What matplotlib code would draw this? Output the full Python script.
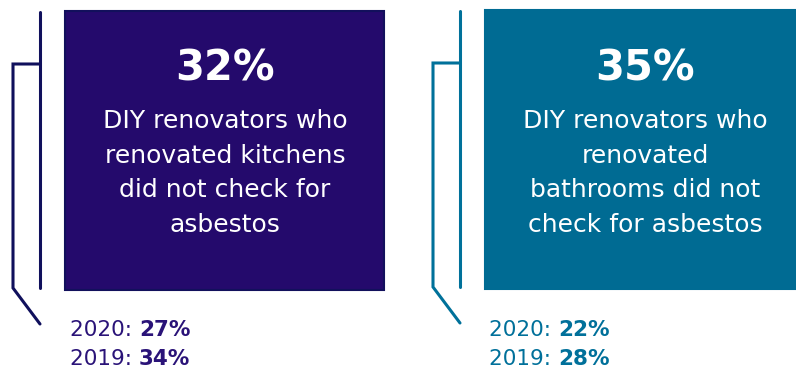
import matplotlib
matplotlib.use("Agg")
import matplotlib.pyplot as plt
from matplotlib.patches import Rectangle

# values
headline = ["32%", "35%"]
captions = ["DIY renovators who\nrenovated kitchens\ndid not check for\nasbestos",
            "DIY renovators who\nrenovated\nbathrooms did not\ncheck for asbestos"]
years = ["2020", "2019"]
previous = [["27%", "34%"], ["22%", "28%"]]

fills = ["#240a6c", "#006b93"]
edges = ["#12105c", "#006b93"]
lines = ["#10105c", "#00719a"]
txtcol = ["#2a1378", "#00709a"]

plt.rcParams['font.family'] = ['DejaVu Sans']

fig = plt.figure(figsize=(7.96, 3.74), dpi=100)
ax = fig.add_axes([0, 0, 1, 1])
ax.set_xlim(0, 796)
ax.set_ylim(374, 0)
ax.axis("off")

# box geometry per panel (px): left, top, right, bottom
boxes = [(65, 11, 384, 290), (485, 10, 800, 289)]
brackets = [(13, 40), (433, 460)]

for i in range(2):
    x0, y0, x1, y1 = boxes[i]
    ax.add_patch(Rectangle((x0, y0), x1 - x0, y1 - y0, facecolor=fills[i],
                           edgecolor=edges[i], lw=1.5, zorder=1))
    bx, vx = brackets[i]
    # vertical line next to the box
    ax.plot([vx, vx], [y0 + 1, y1 - 2], color=lines[i], lw=2.2, solid_capstyle="round")
    # bracket
    ax.plot([vx, bx, bx, vx], [y0 + 53, y0 + 53, y1 - 2, y1 + 34],
            color=lines[i], lw=2.2, solid_joinstyle="miter", solid_capstyle="round")

    cx = 225 if i == 0 else 645
    ax.text(cx, 68, headline[i], color="white", fontsize=30, fontweight="bold",
            ha="center", va="center")
    ax.text(cx, 173, captions[i], color="white", fontsize=18, ha="center",
            va="center", linespacing=1.55)

    tx = x0 + 5 if i == 0 else x0 + 4
    for j in range(2):
        yy = 330 + j * 29
        t = ax.text(tx, yy, years[j] + ": ", color=txtcol[i], fontsize=15.5,
                    ha="left", va="center")
        ax.annotate(previous[i][j], xy=(1, 0.5), xycoords=t, ha="left", va="center",
                    color=txtcol[i], fontsize=15.5, fontweight="bold")

fig.savefig("out.png", dpi=100)
